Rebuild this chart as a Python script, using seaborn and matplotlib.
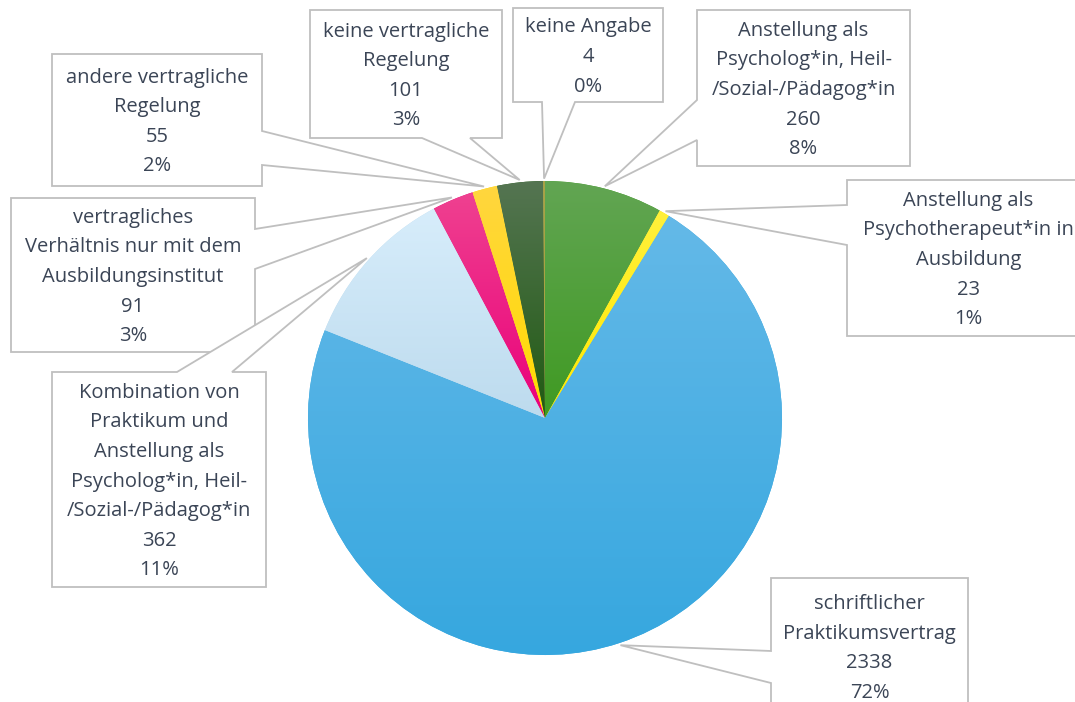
import numpy as np
import matplotlib
matplotlib.use("Agg")
import matplotlib.pyplot as plt
import seaborn as sns
from matplotlib.patches import Polygon
from matplotlib.colors import to_rgb

# ---------------- data ----------------
categories = [
    "Anstellung als Psycholog*in, Heil-/Sozial-/Pädagog*in",
    "Anstellung als Psychotherapeut*in in Ausbildung",
    "schriftlicher Praktikumsvertrag",
    "Kombination von Praktikum und Anstellung als Psycholog*in, Heil-/Sozial-/Pädagog*in",
    "vertragliches Verhältnis nur mit dem Ausbildungsinstitut",
    "andere vertragliche Regelung",
    "keine vertragliche Regelung",
    "keine Angabe",
]
values = [260, 23, 2338, 362, 91, 55, 101, 4]
label_lines = [
    "Anstellung als\nPsycholog*in, Heil-\n/Sozial-/Pädagog*in",
    "Anstellung als\nPsychotherapeut*in in\nAusbildung",
    "schriftlicher\nPraktikumsvertrag",
    "Kombination von\nPraktikum und\nAnstellung als\nPsycholog*in, Heil-\n/Sozial-/Pädagog*in",
    "vertragliches\nVerhältnis nur mit dem\nAusbildungsinstitut",
    "andere vertragliche\nRegelung",
    "keine vertragliche\nRegelung",
    "keine Angabe",
]

# ---------------- style ----------------
top_colors = ["#62A553", "#FFF03C", "#64B9E8", "#D7EDFB", "#EF4190", "#FFD63F", "#557552", "#A9A345"]
bottom_colors = ["#3F9A22", "#FFE800", "#36A7DF", "#BDDBEE", "#EA007A", "#FFDB00", "#205A12", "#A9A345"]
TEXT_COLOR = "#3B4556"
EDGE_COLOR = "#BFBFBF"

# callout layout in pixel coords (x0, y0, x1, y1), pointer side, attach positions
boxes = [
    ((697, 10, 910, 166), "left", (100, 140)),
    ((847, 180, 1090, 336), "left", (205, 245)),
    ((771, 578, 968, 715), "left", (651, 683)),
    ((52, 372, 266, 587), "top", (177, 232)),
    ((11, 198, 255, 352), "right", (229, 269)),
    ((52, 54, 262, 186), "right", (131, 165)),
    ((310, 10, 502, 138), "bottom", (422, 470)),
    ((513, 8, 663, 102), "bottom", (542, 575)),
]
box_z = [3, 3, 3, 3.5, 3.2, 3.1, 3, 3]

W, H = 1075, 702
CX, CY, R = 545, 418, 237
LINE_PX = 29.6

sns.set_theme(style="white")
plt.rcParams["font.family"] = ["Open Sans", "DejaVu Sans"]

fig = plt.figure(figsize=(W / 100, H / 100), dpi=100)
ax = fig.add_axes([0, 0, 1, 1])


def py(y):
    return H - y


wedges, _ = ax.pie(values, startangle=90, counterclock=False,
                   center=(CX, py(CY)), radius=R, colors=bottom_colors,
                   wedgeprops=dict(linewidth=0))

for w, tc, bc in zip(wedges, top_colors, bottom_colors):
    ext = w.get_patch_transform().transform_path(w.get_path()).get_extents()
    t = np.linspace(0, 1, 256)[:, None]
    cols = (1 - t) * np.array(to_rgb(bc)) + t * np.array(to_rgb(tc))
    img = cols[:, None, :]
    im = ax.imshow(img, extent=[ext.x0, ext.x1, ext.y0, ext.y1], origin="lower",
                   aspect="auto", interpolation="bilinear", zorder=1.5)
    im.set_clip_path(w)

total = sum(values)
cum = np.cumsum([0] + values)
for i, (v, lab) in enumerate(zip(values, label_lines)):
    mid = (cum[i] + cum[i + 1]) / 2 / total * 2 * np.pi
    tip = (CX + R * 1.01 * np.sin(mid), CY - R * 1.01 * np.cos(mid))
    (x0, y0, x1, y1), side, (a1, a2) = boxes[i]
    if side == "left":
        pts = [(x0, y0), (x1, y0), (x1, y1), (x0, y1), (x0, a2), tip, (x0, a1)]
    elif side == "right":
        pts = [(x0, y0), (x1, y0), (x1, a1), tip, (x1, a2), (x1, y1), (x0, y1)]
    elif side == "top":
        pts = [(x0, y0), (a1, y0), tip, (a2, y0), (x1, y0), (x1, y1), (x0, y1)]
    else:
        pts = [(x0, y0), (x1, y0), (x1, y1), (a2, y1), tip, (a1, y1), (x0, y1)]
    poly = Polygon([(px, py(pyy)) for px, pyy in pts], closed=True,
                   facecolor="white", edgecolor=EDGE_COLOR, linewidth=1.3,
                   zorder=box_z[i], joinstyle="miter")
    ax.add_patch(poly)
    pct = int(round(v / total * 100))
    lines = lab.split("\n") + [str(v), f"{pct}%"]
    n = len(lines)
    cyb = (y0 + y1) / 2 + 2
    cxb = (x0 + x1) / 2
    for j, line in enumerate(lines):
        yy = cyb + (j - (n - 1) / 2) * LINE_PX
        ax.text(cxb, py(yy), line, ha="center", va="center", fontsize=14.5,
                color=TEXT_COLOR, zorder=box_z[i] + 0.05)

ax.set_xlim(0, W)
ax.set_ylim(0, H)
ax.set_aspect("auto")
ax.axis("off")
fig.savefig("out.png", dpi=100, facecolor="white")
